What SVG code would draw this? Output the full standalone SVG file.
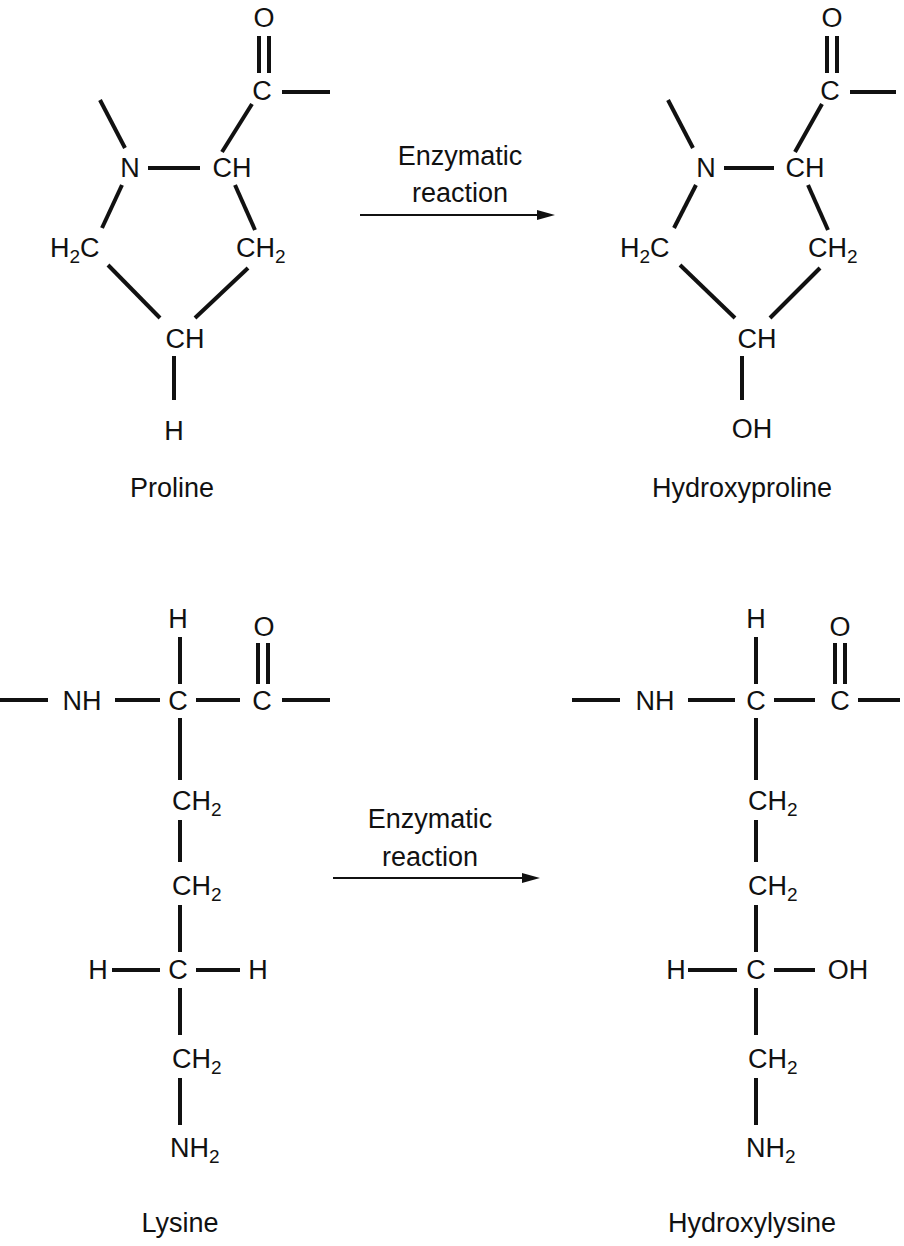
<svg xmlns="http://www.w3.org/2000/svg" width="904" height="1246" viewBox="0 0 904 1246">
<style>
text{font-family:"Liberation Sans",Arial,sans-serif;font-size:27px;fill:#111}
.m{text-anchor:middle}
.s{font-size:19px}
line{stroke:#111;stroke-width:4}
.t{stroke-width:2}
.h{fill:#111}
</style>
<rect width="904" height="1246" fill="#fff"/>
<g id="connectors">
<line x1="259" y1="36" x2="259" y2="73"/><line x1="269" y1="36" x2="269" y2="73"/>
<line x1="282" y1="92" x2="330" y2="92"/><line x1="252" y1="104" x2="222" y2="152"/>
<line x1="148" y1="168" x2="200" y2="168"/><line x1="100" y1="100" x2="125" y2="148"/>
<line x1="122" y1="185" x2="102" y2="228"/><line x1="235" y1="185" x2="255" y2="230"/>
<line x1="108" y1="265" x2="160" y2="318"/><line x1="248" y1="268" x2="195" y2="318"/>
<line x1="174" y1="356" x2="174" y2="400"/>
<line x1="827" y1="36" x2="827" y2="73"/><line x1="837" y1="36" x2="837" y2="73"/>
<line x1="850" y1="92" x2="896" y2="92"/><line x1="822" y1="104" x2="795" y2="152"/>
<line x1="724" y1="168" x2="774" y2="168"/><line x1="668" y1="100" x2="693" y2="148"/>
<line x1="696" y1="185" x2="674" y2="228"/><line x1="808" y1="185" x2="828" y2="230"/>
<line x1="680" y1="265" x2="735" y2="318"/><line x1="820" y1="268" x2="770" y2="318"/>
<line x1="742" y1="356" x2="742" y2="400"/>
<line class="t" x1="360" y1="215" x2="545" y2="215"/><path class="h" d="M555,215L537,210L537,220Z"/>
<line class="t" x1="333" y1="878" x2="530" y2="878"/><path class="h" d="M540,878L522,873L522,883Z"/>
<line x1="0" y1="700" x2="48" y2="700"/><line x1="115" y1="700" x2="160" y2="700"/>
<line x1="196" y1="700" x2="240" y2="700"/><line x1="282" y1="700" x2="330" y2="700"/>
<line x1="180" y1="637" x2="180" y2="684"/>
<line x1="258" y1="643" x2="258" y2="684"/><line x1="268" y1="643" x2="268" y2="684"/>
<line x1="180" y1="718" x2="180" y2="780"/><line x1="180" y1="820" x2="180" y2="862"/>
<line x1="180" y1="905" x2="180" y2="952"/><line x1="112" y1="970" x2="160" y2="970"/>
<line x1="196" y1="970" x2="240" y2="970"/><line x1="180" y1="988" x2="180" y2="1035"/>
<line x1="180" y1="1078" x2="180" y2="1125"/>
<line x1="572" y1="700" x2="620" y2="700"/><line x1="688" y1="700" x2="735" y2="700"/>
<line x1="774" y1="700" x2="815" y2="700"/><line x1="858" y1="700" x2="900" y2="700"/>
<line x1="756" y1="637" x2="756" y2="684"/>
<line x1="835" y1="643" x2="835" y2="684"/><line x1="845" y1="643" x2="845" y2="684"/>
<line x1="756" y1="718" x2="756" y2="780"/><line x1="756" y1="820" x2="756" y2="862"/>
<line x1="756" y1="905" x2="756" y2="952"/><line x1="688" y1="970" x2="737" y2="970"/>
<line x1="774" y1="970" x2="815" y2="970"/><line x1="756" y1="988" x2="756" y2="1035"/>
<line x1="756" y1="1078" x2="756" y2="1125"/>
</g>
<g id="proline">
<text class="m" x="264" y="27">O</text><text class="m" x="262" y="100">C</text>
<text class="m" x="130" y="177">N</text><text class="m" x="232" y="177">CH</text>
<text x="50" y="257">H<tspan class="s" dy="6">2</tspan><tspan dy="-6">C</tspan></text>
<text x="236" y="257">CH<tspan class="s" dy="6">2</tspan></text>
<text class="m" x="185" y="348">CH</text><text class="m" x="174" y="440">H</text>
<text class="m" x="172" y="497">Proline</text>
</g>
<g id="hydroxyproline">
<text class="m" x="832" y="27">O</text><text class="m" x="830" y="100">C</text>
<text class="m" x="706" y="177">N</text><text class="m" x="805" y="177">CH</text>
<text x="620" y="257">H<tspan class="s" dy="6">2</tspan><tspan dy="-6">C</tspan></text>
<text x="808" y="257">CH<tspan class="s" dy="6">2</tspan></text>
<text class="m" x="757" y="348">CH</text><text class="m" x="752" y="438">OH</text>
<text class="m" x="742" y="497">Hydroxyproline</text>
</g>
<g id="arrow-labels">
<text class="m" x="460" y="165">Enzymatic</text><text class="m" x="460" y="202">reaction</text>
<text class="m" x="430" y="828">Enzymatic</text><text class="m" x="430" y="866">reaction</text>
</g>
<g id="lysine">
<text class="m" x="82" y="710">NH</text><text class="m" x="178" y="710">C</text><text class="m" x="262" y="710">C</text>
<text class="m" x="178" y="628">H</text><text class="m" x="264" y="636">O</text>
<text x="172" y="810">CH<tspan class="s" dy="6">2</tspan></text>
<text x="172" y="895">CH<tspan class="s" dy="6">2</tspan></text>
<text class="m" x="98" y="979">H</text><text class="m" x="178" y="979">C</text><text class="m" x="258" y="979">H</text>
<text x="172" y="1068">CH<tspan class="s" dy="6">2</tspan></text>
<text x="170" y="1157">NH<tspan class="s" dy="6">2</tspan></text>
<text class="m" x="180" y="1232">Lysine</text>
</g>
<g id="hydroxylysine">
<text class="m" x="655" y="710">NH</text><text class="m" x="756" y="710">C</text><text class="m" x="840" y="710">C</text>
<text class="m" x="756" y="628">H</text><text class="m" x="840" y="636">O</text>
<text x="748" y="810">CH<tspan class="s" dy="6">2</tspan></text>
<text x="748" y="895">CH<tspan class="s" dy="6">2</tspan></text>
<text class="m" x="676" y="979">H</text><text class="m" x="756" y="979">C</text><text class="m" x="848" y="979">OH</text>
<text x="748" y="1068">CH<tspan class="s" dy="6">2</tspan></text>
<text x="746" y="1157">NH<tspan class="s" dy="6">2</tspan></text>
<text class="m" x="752" y="1232">Hydroxylysine</text>
</g>
</svg>
